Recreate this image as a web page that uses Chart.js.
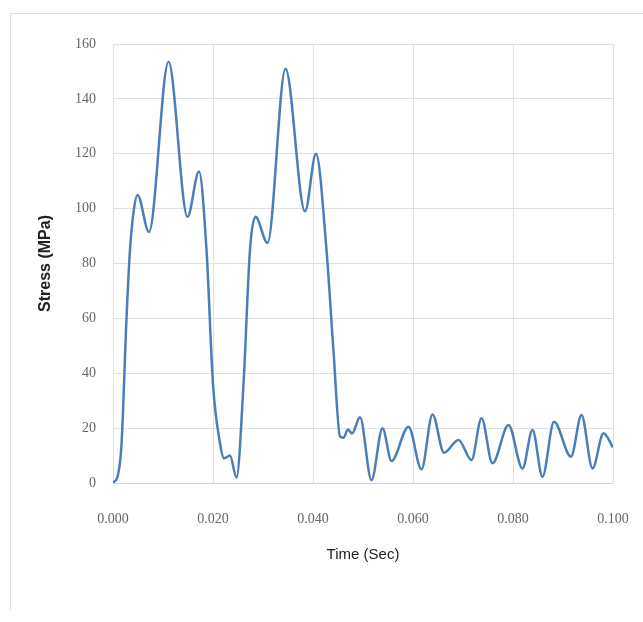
<!DOCTYPE html>
<html>
<head>
<meta charset="utf-8">
<script src="https://cdn.jsdelivr.net/npm/chart.js@4"></script>
<style>
  html, body { margin: 0; padding: 0; background: #fff; }
  #wrap { position: relative; width: 643px; height: 622px; }
  #frame { position: absolute; left: 10px; top: 13px; right: 0; bottom: 12px;
           border-top: 1px solid #dcdcdc; border-left: 1px solid #dcdcdc; }
  canvas { position: absolute; left: 0; top: 0; }
</style>
</head>
<body>
<div id="wrap">
  <div id="frame"></div>
  <canvas id="stressChart" width="643" height="622"></canvas>
</div>
<script>
// time (sec) and stress (MPa)
const timeSec = [
  0.0000, 0.0010, 0.0017, 0.0027, 0.0034, 0.0042, 0.0049, 0.0072, 0.0111,
  0.0149, 0.0172, 0.0187, 0.0200, 0.0214, 0.0222, 0.0234, 0.0247, 0.0261,
  0.0274, 0.0285, 0.0309, 0.0345, 0.0384, 0.0406, 0.0427, 0.0441,
  0.0454, 0.0461, 0.0470, 0.0478, 0.0494, 0.0517, 0.0539, 0.0557, 0.0591, 0.0617,
  0.0639, 0.0662, 0.0691, 0.0717, 0.0737, 0.0759, 0.0791, 0.0819, 0.0839, 0.0859,
  0.0882, 0.0916, 0.0937, 0.0959, 0.0981, 0.1000
];
const stressMPa = [
  0, 3, 14, 60, 85, 100, 105, 91.5, 153.5,
  97, 113.5, 85, 36, 14.5, 9, 10, 2, 36,
  85, 97, 87.5, 151, 99, 120, 85, 48,
  17, 16.5, 19.5, 18, 24, 1, 20, 8, 20.5, 5,
  25, 11, 15.7, 8.4, 23.6, 7.2, 21.1, 5.3, 19.3, 2.3,
  22.3, 9.6, 24.8, 5.3, 18.1, 13
];
const xTicks = [0, 0.02, 0.04, 0.06, 0.08, 0.1];
const yTicks = [0, 20, 40, 60, 80, 100, 120, 140, 160];

const points = timeSec.map((t, i) => ({ x: t, y: stressMPa[i] }));
const tickFont = { family: 'Liberation Serif', size: 14 };

new Chart(document.getElementById('stressChart'), {
  type: 'line',
  data: {
    datasets: [{
      data: points,
      borderColor: '#4a7ebb',
      borderWidth: 2.5,
      pointRadius: 0,
      fill: false,
      cubicInterpolationMode: 'monotone'
    }]
  },
  options: {
    responsive: false,
    animation: false,
    layout: { padding: { left: 0, right: 30, top: 44, bottom: 0 } },
    plugins: { legend: { display: false }, tooltip: { enabled: false } },
    scales: {
      x: {
        type: 'linear',
        min: 0, max: 0.1,
        afterBuildTicks: s => { s.ticks = xTicks.map(v => ({ value: v })); },
        afterFit: s => { s.height = 139; s.paddingLeft = 0; s.paddingRight = 0; },
        grid: { color: '#e0e0e0', drawTicks: false },
        border: { display: false },
        ticks: { color: '#666', font: tickFont, padding: 28, maxRotation: 0,
                 callback: v => v.toFixed(3) },
        title: { display: true, text: 'Time (Sec)', color: '#222',
                 font: { family: 'Liberation Sans', size: 15 },
                 padding: { top: 0, bottom: 58 } }
      },
      y: {
        min: 0, max: 160,
        afterBuildTicks: s => { s.ticks = yTicks.map(v => ({ value: v })); },
        afterFit: s => { s.width = 113; s.paddingTop = 0; s.paddingBottom = 0; },
        grid: { color: (c) => c.tick && c.tick.value === 0 ? '#cfcfcf' : '#e0e0e0', drawTicks: false },
        border: { display: false },
        ticks: { color: '#666', font: tickFont, padding: 17 },
        title: { display: true, text: 'Stress (MPa)', color: '#222',
                 font: { family: 'Liberation Sans', size: 16, weight: 'bold' },
                 padding: { top: 36, bottom: 0 } }
      }
    }
  }
});
</script>
</body>
</html>
